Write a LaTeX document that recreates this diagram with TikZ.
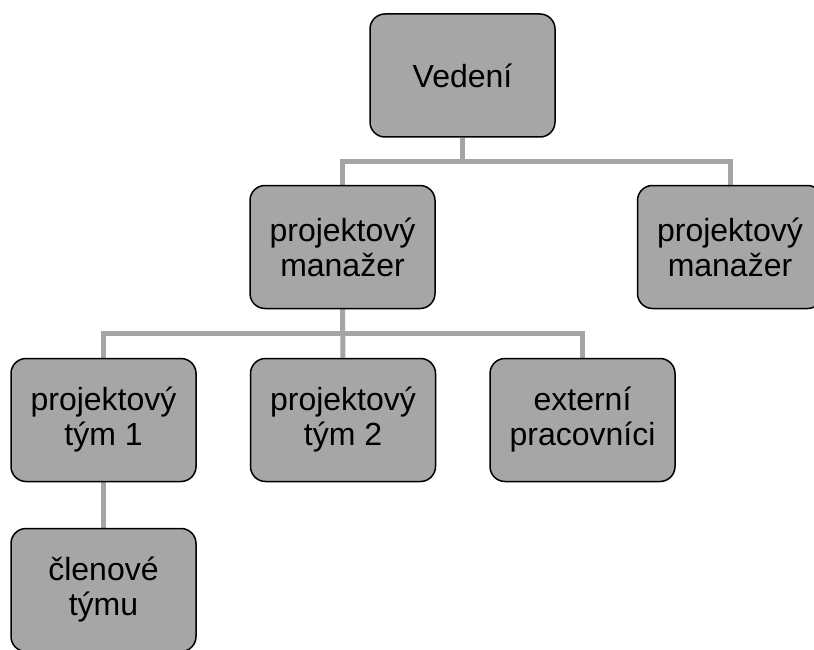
\documentclass[tikz,border=0pt]{standalone}
\usepackage{fontspec}
\setmainfont{Liberation Sans}
\usetikzlibrary{backgrounds}
\definecolor{boxgray}{HTML}{A6A6A6}
\definecolor{linegray}{HTML}{A5A5A5}
\begin{document}
\begin{tikzpicture}[x=1pt,y=-1pt,
  orgbox/.style={draw=black, line width=1.5pt, fill=boxgray, rounded corners=15pt,
    minimum width=185pt, minimum height=123pt, inner sep=0pt,
    align=center, font=\fontsize{32}{35}\selectfont, text=black},
  conn/.style={draw=linegray, line width=5pt}]
\useasboundingbox (0,0) rectangle (814,650);

% boxes
\node[orgbox] (ved)  at (462.5,75.5) {Vedení};
\node[orgbox] (mgr1) at (342.5,247)  {projektový\\manažer};
\node[orgbox] (mgr2) at (730,247)    {projektový\\manažer};
\node[orgbox] (t1)   at (103.5,420)  {projektový\\tým 1};
\node[orgbox] (t2)   at (343,420)    {projektový\\tým 2};
\node[orgbox] (ext)  at (582.5,420)  {externí\\pracovníci};
\node[orgbox] (clen) at (103.5,590)  {členové\\týmu};

% bus heights
\coordinate (bus1) at (0,162);
\coordinate (bus2) at (0,333);

% connectors
\begin{scope}[on background layer]
  \draw[conn] (ved.south) -- (ved.south |- bus1);
  \draw[conn] (mgr1.north) -- (mgr1.north |- bus1) -- (mgr2.north |- bus1) -- (mgr2.north);
  \draw[conn] (mgr1.south) -- (t2.north);
  \draw[conn] (t1.north) -- (t1.north |- bus2) -- (ext.north |- bus2) -- (ext.north);
  \draw[conn] (t1.south) -- (clen.north);
\end{scope}
\end{tikzpicture}
\end{document}
